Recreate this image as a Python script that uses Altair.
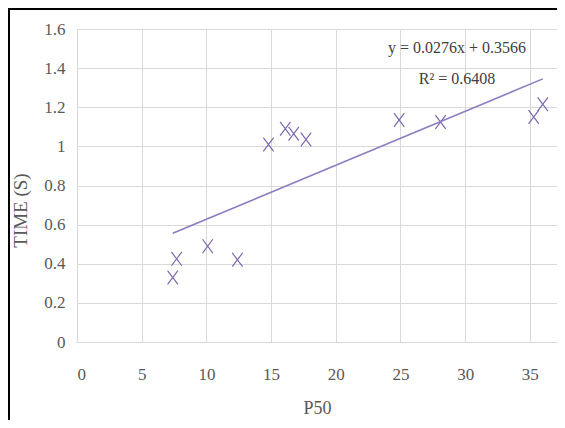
import altair as alt
import pandas as pd

# data
p50 = [7.4, 7.7, 10.1, 12.4, 14.8, 16.1, 16.75, 17.7, 24.9, 28.1, 35.3, 36.0]
time_s = [0.33, 0.425, 0.49, 0.42, 1.01, 1.09, 1.065, 1.035, 1.135, 1.125, 1.15, 1.215]
x_ticks = [0, 5, 10, 15, 20, 25, 30, 35]
y_ticks = [0, 0.2, 0.4, 0.6, 0.8, 1.0, 1.2, 1.4, 1.6]
eq_labels = ["y = 0.0276x + 0.3566", "R² = 0.6408"]

df = pd.DataFrame({"P50": p50, "TIME": time_s})

W, H = 480, 313
FONT = "Liberation Serif"
GRID = "#d9d9d9"
TXT = "#595959"
MARK = "#7D68AD"
LINE = "#8E7CC3"

xscale = alt.Scale(domain=[0, 37.1], nice=False, zero=True)
yscale = alt.Scale(domain=[0, 1.6], nice=False)

xaxis = alt.Axis(values=x_ticks, tickCount=len(x_ticks) + 2, grid=True, gridColor=GRID,
                 domain=False, ticks=False,
                 labelFont=FONT, labelFontSize=17, labelColor=TXT, labelPadding=24,
                 labelOverlap=False,
                 title="P50", titleFont=FONT, titleFontSize=18, titleFontWeight="normal",
                 titleColor=TXT, titlePadding=17)
yaxis = alt.Axis(values=y_ticks, tickCount=len(y_ticks) + 2, format="~g", grid=True,
                 gridColor=GRID, domain=False, ticks=False,
                 labelFont=FONT, labelFontSize=17, labelColor=TXT, labelPadding=12,
                 labelOverlap=False,
                 title="TIME (S)", titleFont=FONT, titleFontSize=19, titleFontWeight="normal",
                 titleColor=TXT, titlePadding=13, titleY=181)

xpath = "M-0.75,-1L0.75,1M-0.75,1L0.75,-1"

points = alt.Chart(df).mark_point(shape=xpath, filled=False, stroke=MARK, strokeWidth=1.2,
                                  size=190, opacity=1).encode(
    x=alt.X("P50:Q", scale=xscale, axis=xaxis),
    y=alt.Y("TIME:Q", scale=yscale, axis=yaxis),
)

trend = alt.Chart(df).transform_regression("P50", "TIME").mark_line(
    color=LINE, strokeWidth=1.6).encode(
    x=alt.X("P50:Q", scale=xscale),
    y=alt.Y("TIME:Q", scale=yscale),
)

one = alt.Data(values=[{"a": 1}])
eq1 = alt.Chart(one).mark_text(font=FONT, fontSize=16, color="#404040", align="center",
                               baseline="middle").encode(
    x=alt.value(380), y=alt.value(19), text=alt.value(eq_labels[0]))
eq2 = alt.Chart(one).mark_text(font=FONT, fontSize=16, color="#404040", align="center",
                               baseline="middle").encode(
    x=alt.value(380), y=alt.value(50), text=alt.value(eq_labels[1]))

border_left = alt.Chart(one).mark_rule(color="black", strokeWidth=2).encode(
    x=alt.value(-68), y=alt.value(-20), y2=alt.value(395))
border_top = alt.Chart(one).mark_rule(color="black", strokeWidth=2).encode(
    x=alt.value(-69), x2=alt.value(490), y=alt.value(-20))

chart = alt.layer(points, trend, eq1, eq2, border_left, border_top).properties(
    width=W, height=H,
    autosize=alt.AutoSizeParams(type="none"),
    padding={"left": 69, "top": 21, "right": 0, "bottom": 78},
    background="white",
).configure_view(stroke=None)

chart.save("out.html", embed_options={"renderer": "svg", "actions": False})
